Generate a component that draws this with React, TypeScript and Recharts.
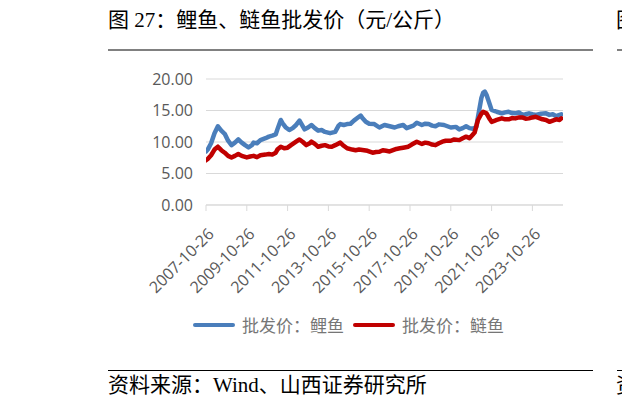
import React from 'react';
import { LineChart, Line, XAxis, YAxis, CartesianGrid } from 'recharts';

// months counted from 2007-10-26, prices in 元/公斤
const carpMonths = [
  0, 1, 3, 5, 7, 9, 11, 13, 15, 17, 19, 21, 23, 25, 27, 28, 30, 32, 35, 37, 39, 41, 42, 44, 45, 47, 49, 51, 53, 55,
  58, 60, 62, 64, 66, 68, 70, 73, 76, 78, 79, 81, 83, 85, 87, 89, 91, 92, 94, 96, 99, 102, 105, 108, 111, 113, 116,
  118, 120, 122, 124, 127, 129, 131, 133, 135, 137, 140, 142, 144, 147, 149, 151, 153, 155, 157, 159, 160, 162, 163,
  164, 165, 166, 168, 170, 171, 174, 176, 178, 180, 182, 184, 186, 188, 190, 192, 194, 197, 200, 202, 204, 206, 208, 209,
];
const carpPrices = [
  8.5, 8.8, 9.8, 11.4, 12.5, 11.8, 11.3, 10.2, 9.5, 9.9, 10.4, 9.9, 9.5, 9.15, 9.5, 9.9, 9.8, 10.3, 10.6, 10.85, 11.0,
  11.2, 12.0, 13.5, 13.0, 12.3, 11.9, 12.2, 12.7, 13.4, 12.0, 12.3, 12.7, 12.2, 11.8, 11.9, 11.6, 11.4, 11.6, 12.6,
  12.85, 12.7, 12.85, 12.9, 13.4, 13.8, 14.2, 13.8, 13.2, 12.9, 12.85, 12.3, 12.7, 12.5, 12.3, 12.5, 12.7, 12.2, 12.4,
  12.6, 13.05, 12.7, 12.9, 12.85, 12.6, 12.5, 12.8, 12.7, 12.5, 12.3, 12.4, 12.0, 12.2, 12.5, 12.2, 12.1, 12.4, 14.0,
  17.0, 17.8, 18.0, 17.5, 16.7, 15.1, 14.9, 14.8, 14.55, 14.7, 14.8, 14.6, 14.55, 14.7, 14.3, 14.4, 14.55, 14.4, 14.3,
  14.5, 14.55, 14.3, 14.4, 14.1, 14.3, 14.4,
];

const silverMonths = [
  0, 1, 3, 5, 7, 9, 11, 13, 15, 17, 19, 21, 24, 26, 28, 30, 32, 35, 37, 39, 41, 42, 44, 46, 48, 50, 53, 55, 57, 59,
  61, 62, 64, 66, 68, 70, 72, 74, 76, 79, 81, 83, 86, 88, 90, 93, 95, 98, 100, 102, 104, 106, 108, 110, 112, 114, 116,
  119, 121, 124, 126, 127, 129, 131, 133, 135, 137, 139, 141, 144, 146, 149, 151, 153, 155, 157, 158, 160, 162, 163,
  165, 167, 168, 170, 171, 174, 176, 178, 180, 182, 184, 186, 188, 190, 192, 194, 196, 198, 200, 202, 204, 206, 208, 209,
];
const silverPrices = [
  7.1, 7.3, 7.9, 8.8, 9.25, 8.7, 8.3, 7.8, 7.55, 7.8, 8.1, 7.8, 7.55, 7.7, 7.8, 7.6, 7.9, 8.0, 8.1, 8.0, 8.3, 8.8,
  9.25, 9.0, 9.1, 9.5, 10.05, 10.4, 10.0, 9.5, 9.8, 10.05, 9.7, 9.25, 9.4, 9.5, 9.3, 9.25, 9.5, 9.9, 9.4, 9.0, 8.8,
  8.7, 8.8, 8.7, 8.6, 8.3, 8.4, 8.45, 8.7, 8.6, 8.5, 8.7, 8.9, 9.0, 9.1, 9.25, 9.6, 10.05, 9.8, 9.7, 9.9, 9.8, 9.6,
  9.5, 9.8, 10.05, 10.2, 10.2, 10.4, 10.3, 10.6, 10.85, 10.6, 11.2, 11.5, 13.5, 14.5, 14.8, 14.55, 13.6, 13.2, 13.4,
  13.5, 13.75, 13.6, 13.6, 13.8, 13.75, 13.9, 13.9, 13.7, 13.75, 13.9, 14.0, 13.8, 13.6, 13.5, 13.2, 13.4, 13.6, 13.5,
  13.75,
];

const seriesNames = ['批发价：鲤鱼', '批发价：鲢鱼'];
const seriesColors = ['#4a7ebb', '#c00000'];

const dateLabels = [
  '2007-10-26', '2009-10-26', '2011-10-26', '2013-10-26', '2015-10-26',
  '2017-10-26', '2019-10-26', '2021-10-26', '2023-10-26',
];
const yTicks = [0, 5, 10, 15, 20];

const monthOf = (label: string) => {
  const [y, m] = label.split('-').map(Number);
  return (y - 2007) * 12 + (m - 10);
};
const xTicks = dateLabels.map(monthOf);

const carpData = carpMonths.map((m, i) => ({ m, v: carpPrices[i] }));
const silverData = silverMonths.map((m, i) => ({ m, v: silverPrices[i] }));

const axisFont = '"Open Sans", "Liberation Sans", sans-serif';
const docFont = '"Liberation Serif", "Noto Sans CJK SC", serif';

const DateTick = (props: any) => {
  const { x, y, payload } = props;
  const px = x + 9;
  const py = y + 22;
  const label = dateLabels[xTicks.indexOf(payload.value)] ?? '';
  return (
    <text x={px} y={py} transform={`rotate(-45 ${px} ${py})`} textAnchor="end"
      fill="#595959" fontSize={16} fontFamily={axisFont}>
      {label}
    </text>
  );
};

export default function App() {
  return (
    <div style={{ position: 'absolute', left: 0, top: 0, width: 622, height: 410, overflow: 'hidden', background: '#fff' }}>
      {/* title */}
      <div style={{ position: 'absolute', left: 108, top: 10, fontSize: 21, lineHeight: '21px', fontFamily: docFont, color: '#000', whiteSpace: 'nowrap' }}>
        图 27：鲤鱼、鲢鱼批发价（元/公斤）
      </div>
      <div style={{ position: 'absolute', left: 108, top: 49, width: 485, height: 2, background: '#808080' }} />
      {/* next column, cut off by the page edge */}
      <div style={{ position: 'absolute', left: 616, top: 10, fontSize: 21, lineHeight: '21px', fontFamily: docFont, whiteSpace: 'nowrap' }}>图</div>
      <div style={{ position: 'absolute', left: 617, top: 49, width: 10, height: 2, background: '#808080' }} />

      <div style={{ position: 'absolute', left: 0, top: 0 }}>
        <LineChart width={622} height={305} margin={{ top: 79, right: 59, left: 146, bottom: 0 }}>
          <CartesianGrid vertical={false} stroke="#d9d9d9" strokeWidth={1.2} />
          <XAxis
            type="number"
            dataKey="m"
            domain={[0, 210]}
            ticks={xTicks}
            interval={0}
            allowDataOverflow
            height={100}
            stroke="#d9d9d9"
            tickSize={6}
            tickMargin={2}
            tick={<DateTick />}
          />
          <YAxis
            domain={[0, 20]}
            ticks={yTicks}
            width={60}
            axisLine={false}
            tickLine={false}
            tickSize={0}
            tickMargin={13}
            tickFormatter={(v: number) => v.toFixed(2)}
            tick={{ fill: '#595959', fontSize: 16, fontFamily: axisFont }}
          />
          <Line data={carpData} dataKey="v" name={seriesNames[0]} stroke={seriesColors[0]} strokeWidth={4.5}
            dot={false} type="linear" strokeLinejoin="round" strokeLinecap="round" isAnimationActive={false} />
          <Line data={silverData} dataKey="v" name={seriesNames[1]} stroke={seriesColors[1]} strokeWidth={4.5}
            dot={false} type="linear" strokeLinejoin="round" strokeLinecap="round" isAnimationActive={false} />
        </LineChart>
      </div>

      {/* legend */}
      {seriesNames.map((name, i) => (
        <div key={name} style={{ position: 'absolute', left: i === 0 ? 193 : 353, top: 315, display: 'flex', alignItems: 'center', whiteSpace: 'nowrap' }}>
          <div style={{ width: 42, height: 4, borderRadius: 2, background: seriesColors[i] }} />
          <span style={{ marginLeft: 7, fontSize: 17, lineHeight: '20px', color: '#767676', fontFamily: '"Noto Sans CJK SC", sans-serif' }}>{name}</span>
        </div>
      ))}

      {/* source */}
      <div style={{ position: 'absolute', left: 108, top: 370, width: 485, height: 1, background: '#000' }} />
      <div style={{ position: 'absolute', left: 617, top: 370, width: 10, height: 1, background: '#000' }} />
      <div style={{ position: 'absolute', left: 108, top: 375, fontSize: 21, lineHeight: '21px', fontFamily: docFont, color: '#000', whiteSpace: 'nowrap' }}>
        资料来源：Wind、山西证券研究所
      </div>
      <div style={{ position: 'absolute', left: 616, top: 375, fontSize: 21, lineHeight: '21px', fontFamily: docFont, whiteSpace: 'nowrap' }}>资</div>
    </div>
  );
}
